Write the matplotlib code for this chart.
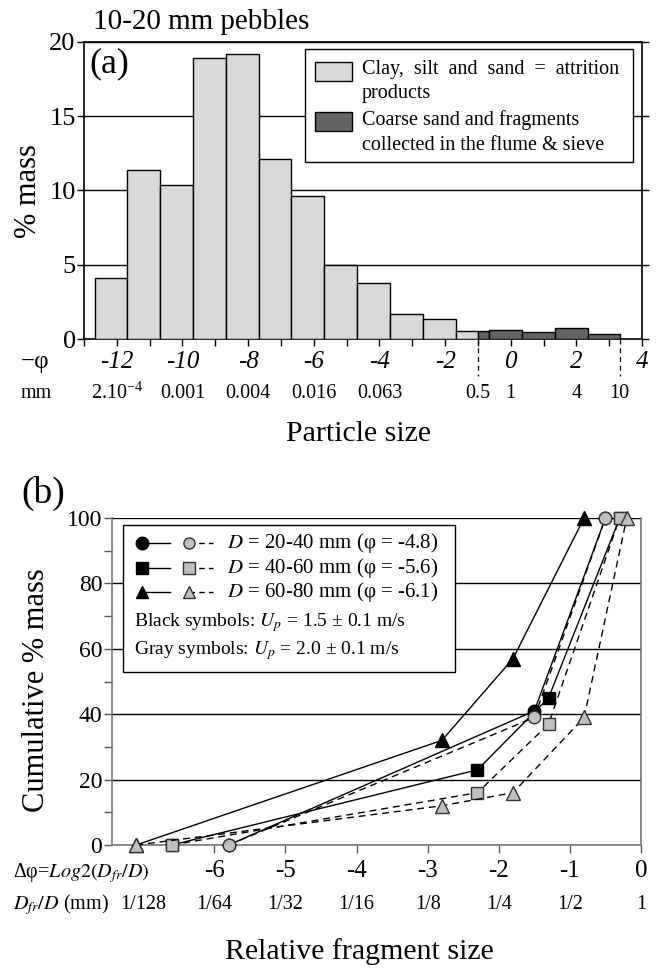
import matplotlib
matplotlib.use("Agg")
import matplotlib.pyplot as plt
from matplotlib.patches import Rectangle
from matplotlib.ticker import MultipleLocator

plt.rcParams['font.family'] = ['Liberation Serif', 'DejaVu Serif']
plt.rcParams['mathtext.fontset'] = 'stix'
plt.rcParams['axes.unicode_minus'] = False

# (a) grain size distribution of attrition products, 10-20 mm pebbles
light_edges = [-12.68, -11.68, -10.68, -9.68, -8.68, -7.68, -6.68,
               -5.68, -4.68, -3.68, -2.68, -1.68, -1.0]
light_pct = [4.1, 11.4, 10.4, 18.9, 19.2, 12.1, 9.6, 5.0, 3.8, 1.65, 1.35, 0.52]
dark_edges = [-1.0, -0.66, 0.34, 1.34, 2.36, 3.32]
dark_pct = [0.52, 0.6, 0.5, 0.72, 0.33]
phi_ticks = [-12, -10, -8, -6, -4, -2, 0, 2, 4]
mm_pos = [-12, -10, -8, -6, -4, -1, 0, 2, 3.32]
mm_labels = [r'2.10$^{\mathregular{-4}}$', '0.001', '0.004', '0.016', '0.063',
             '0.5', '1', '4', '10']
sieve_phi = [-1.0, 3.32]   # 0.5 mm and 10 mm limits

# (b) cumulative fragment distributions
circ_x = [-5.8, -1.5, -0.5]
circ_black = [0, 41, 100]
circ_gray = [0, 39, 100]
sq_x = [-6.6, -2.3, -1.3, -0.3]
sq_black = [0, 23, 45, 100]
sq_gray = [0, 16, 37, 100]
tri_black_x = [-7.1, -2.8, -1.8, -0.8]
tri_black = [0, 32, 57, 100]
tri_gray_x = [-7.1, -2.8, -1.8, -0.8, -0.2]
tri_gray = [0, 12, 16, 39, 100]
dphi_ticks = [-6, -5, -4, -3, -2, -1, 0]
ratio_pos = [-7, -6, -5, -4, -3, -2, -1, 0]
ratio_labels = ['1/128', '1/64', '1/32', '1/16', '1/8', '1/4', '1/2', '1']

W, H = 659, 971
fig = plt.figure(figsize=(W / 100, H / 100), dpi=100)

def fx(px):
    return px / W

def fy(py):
    return 1 - py / H

light = '#d9d9d9'
dark = '#636363'
gray = '#c0c0c0'

# ---------------- panel (a)
ax = fig.add_axes([fx(84), fy(339), fx(642 - 84), (339 - 42) / H])
lw = [light_edges[i + 1] - light_edges[i] for i in range(len(light_pct))]
ax.bar(light_edges[:-1], light_pct, width=lw, align='edge', color=light,
       edgecolor='black', linewidth=1, zorder=3)
dw = [dark_edges[i + 1] - dark_edges[i] for i in range(len(dark_pct))]
ax.bar(dark_edges[:-1], dark_pct, width=dw, align='edge', color=dark,
       edgecolor='black', linewidth=1, zorder=3)
ax.set_xlim(-13, 4)
ax.set_ylim(0, 20)
ax.set_yticks([0, 5, 10, 15, 20])
ax.yaxis.grid(True, color='black', linewidth=1)
ax.set_axisbelow(True)
ax.set_xticks(phi_ticks)
ax.set_xticklabels([str(t) for t in phi_ticks], fontstyle='italic', fontsize=18)
ax.xaxis.set_minor_locator(MultipleLocator(1))
ax.tick_params(axis='y', direction='out', length=5, width=1, labelsize=19,
               pad=1, right=True)
ax.tick_params(axis='x', which='both', direction='out', length=5, width=1, pad=4)
for s in ax.spines.values():
    s.set_linewidth(1.2)
tr = ax.get_xaxis_transform()
for x in sieve_phi:
    ax.plot([x, x], [0, -0.125], transform=tr, clip_on=False, color='black',
            linestyle=(0, (4, 3)), linewidth=0.9)
for x, lab in zip(mm_pos, mm_labels):
    ax.text(x, -0.183, lab, transform=tr, ha='center', va='center', fontsize=14.5)

ax.text(0.009, 0.926, '(a)', transform=ax.transAxes, fontsize=26, va='center')
# legend (a)
ax.add_patch(Rectangle((0.396, 0.596), 0.588, 0.38, transform=ax.transAxes,
                       facecolor='white', edgecolor='black', linewidth=1, zorder=5))
ax.add_patch(Rectangle((0.414, 0.869), 0.066, 0.064, transform=ax.transAxes,
                       facecolor=light, edgecolor='black', linewidth=1, zorder=6))
ax.add_patch(Rectangle((0.414, 0.700), 0.066, 0.064, transform=ax.transAxes,
                       facecolor=dark, edgecolor='black', linewidth=1, zorder=6))
leg_a = [(0.906, 'Clay,  silt  and  sand  =  attrition'), (0.828, 'products'),
         (0.737, 'Coarse sand and fragments'),
         (0.653, 'collected in the flume & sieve')]
for y, t in leg_a:
    ax.text(0.498, y, t, transform=ax.transAxes, fontsize=14.5, va='center', zorder=7)

fig.text(fx(93), fy(22), '10-20 mm pebbles', fontsize=21, va='center')
fig.text(fx(28), fy(191), '% mass', fontsize=22, rotation=90, ha='center', va='center')
fig.text(fx(21), fy(362), '\u2212\u03c6', fontsize=18, va='center')
fig.text(fx(21), fy(393), 'mm', fontsize=14.5, va='center')
fig.text(fx(359), fy(434), 'Particle size', fontsize=21.5, ha='center', va='center')

# ---------------- panel (b)
bx = fig.add_axes([fx(112), fy(845), fx(641 - 112), (845 - 518) / H])
bx.set_xlim(-7.44, 0)
bx.set_ylim(0, 100)
bx.set_yticks([0, 20, 40, 60, 80, 100])
bx.yaxis.set_minor_locator(MultipleLocator(10))
bx.yaxis.grid(True, color='black', linewidth=1)
bx.set_axisbelow(True)
bx.set_xticks(dphi_ticks)
bx.set_xticklabels([str(t) for t in dphi_ticks], fontsize=18)
bx.tick_params(axis='y', which='both', direction='out', length=6, width=1,
               labelsize=17, pad=1, color='#555555')
bx.tick_params(axis='x', direction='out', length=6, width=1, pad=5, color='#555555')
bx.spines['top'].set_visible(False)
for k in ['left', 'bottom', 'right']:
    bx.spines[k].set_color('#777777')
    bx.spines[k].set_linewidth(1.2)

dash = (0, (5, 3.5))
ms = 9
bx.plot(circ_x, circ_black, '-', color='black', lw=1, marker='o', ms=ms,
        mfc='black', mec='black', zorder=4, clip_on=False)
bx.plot(sq_x, sq_black, '-', color='black', lw=1, marker='s', ms=ms - 0.5,
        mfc='black', mec='black', zorder=4, clip_on=False)
bx.plot(tri_black_x, tri_black, '-', color='black', lw=1, marker='^', ms=ms + 1,
        mfc='black', mec='black', zorder=4, clip_on=False)
bx.plot(circ_x, circ_gray, linestyle=dash, color='black', lw=1, marker='o', ms=ms,
        mfc=gray, mec='#333333', mew=1, zorder=5, clip_on=False)
bx.plot(sq_x, sq_gray, linestyle=dash, color='black', lw=1, marker='s', ms=ms - 0.5,
        mfc=gray, mec='#333333', mew=1, zorder=5, clip_on=False)
bx.plot(tri_gray_x, tri_gray, linestyle=dash, color='black', lw=1, marker='^',
        ms=ms + 1, mfc=gray, mec='#333333', mew=1, zorder=5, clip_on=False)

# legend (b)
bx.add_patch(Rectangle((0.021, 0.529), 0.627, 0.45, transform=bx.transAxes,
                       facecolor='white', edgecolor='black', linewidth=1, zorder=6))
rows = [(0.924, 'o', r'$D$ = 20-40 mm (φ = -4.8)'),
        (0.847, 's', r'$D$ = 40-60 mm (φ = -5.6)'),
        (0.774, '^', r'$D$ = 60-80 mm (φ = -6.1)')]
for y, m, t in rows:
    bx.plot([0.057, 0.110], [y, y], '-', color='black', lw=1, transform=bx.transAxes,
            zorder=7)
    bx.plot([0.057], [y], marker=m, ms=ms, mfc='black', mec='black',
            transform=bx.transAxes, zorder=8)
    bx.plot([0.146, 0.191], [y, y], linestyle=(0, (4, 3)), color='black', lw=1,
            transform=bx.transAxes, zorder=7)
    bx.plot([0.146], [y], marker=m, ms=ms - 1, mfc=gray, mec='#333333',
            transform=bx.transAxes, zorder=8)
    bx.text(0.217, y, t, transform=bx.transAxes, fontsize=15, va='center', zorder=8)
bx.text(0.042, 0.679, r'Black symbols: $U_p$ = 1.5 ± 0.1 m/s', transform=bx.transAxes,
        fontsize=14, va='center', zorder=8)
bx.text(0.042, 0.596, r'Gray symbols: $U_p$ = 2.0 ± 0.1 m/s', transform=bx.transAxes,
        fontsize=14, va='center', zorder=8)

trb = bx.get_xaxis_transform()
for x, lab in zip(ratio_pos, ratio_labels):
    bx.text(x, -0.183, lab, transform=trb, ha='center', va='center', fontsize=14.5)

fig.text(fx(21), fy(493), '(b)', fontsize=27, va='center')
fig.text(fx(37), fy(690), 'Cumulative % mass', fontsize=22, rotation=90,
         ha='center', va='center')
fig.text(fx(13), fy(873), r'Δφ=$\mathit{Log2(D_{fr}/D)}$', fontsize=14.5, va='center')
fig.text(fx(13), fy(905), r'$D_{fr}/D$ (mm)', fontsize=14.5, va='center')
fig.text(fx(359), fy(952), 'Relative fragment size', fontsize=21.5, ha='center',
         va='center')

fig.savefig('out.png', dpi=100)
